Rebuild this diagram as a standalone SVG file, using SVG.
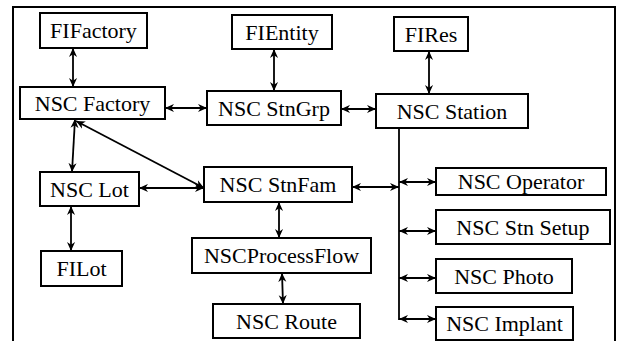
<svg xmlns="http://www.w3.org/2000/svg" width="621" height="341" viewBox="0 0 621 341">
<style>
.box{fill:#fff;stroke:#000;stroke-width:2}
.c{fill:none;stroke:#000;stroke-width:1.8}
.a{marker-start:url(#ah);marker-end:url(#ah)}
</style>
<defs>
<marker id="ah" viewBox="0 0 10 10" refX="10" refY="5" markerWidth="9" markerHeight="9" markerUnits="userSpaceOnUse" orient="auto-start-reverse">
<path d="M0,0.5 L10,5 L0,9.5 L3,5 z" fill="#000"/>
</marker>
</defs>
<rect width="621" height="341" fill="#fff"/>
<path d="M13,341 V7 H615 V341" fill="none" stroke="#000" stroke-width="2"/>
<g id="connectors">
<path class="c a" d="M73,48 V87"/>
<path class="c a" d="M274,49 V91"/>
<path class="c a" d="M429,51 V94"/>
<path class="c a" d="M165,108 H207"/>
<path class="c a" d="M341,109 H376"/>
<path class="c a" d="M75,119 L72,172"/>
<path class="c a" d="M76,121 L204,188"/>
<path class="c a" d="M139,188 H204"/>
<path class="c a" d="M71,206 V251"/>
<path class="c a" d="M279,202 V238"/>
<path class="c a" d="M282,273 L283,304"/>
<path class="c" d="M399,128 V320"/>
<path class="c a" d="M352,187 H399"/>
<path class="c a" d="M399,182 H436"/>
<path class="c a" d="M399,231 H436"/>
<path class="c a" d="M399,278 H436"/>
<path class="c a" d="M399,319 H436"/>
</g>
<g font-family="Liberation Serif, Times New Roman, serif" font-size="22" text-anchor="middle" fill="#000">
<g id="FIFactory"><rect class="box" x="40" y="13" width="107" height="35"/><text x="93.5" y="38">FIFactory</text></g>
<g id="FIEntity"><rect class="box" x="232" y="15" width="100" height="34"/><text x="282" y="39.5">FIEntity</text></g>
<g id="FIRes"><rect class="box" x="394" y="17" width="74" height="34"/><text x="431" y="41.5">FIRes</text></g>
<g id="NSCFactory"><rect class="box" x="20" y="87" width="145" height="32"/><text x="92.5" y="111">NSC Factory</text></g>
<g id="NSCStnGrp"><rect class="box" x="207" y="91" width="134" height="34"/><text x="274" y="115.5">NSC StnGrp</text></g>
<g id="NSCStation"><rect class="box" x="376" y="94" width="152" height="34"/><text x="452" y="118.5">NSC Station</text></g>
<g id="NSCLot"><rect class="box" x="40" y="172" width="99" height="34"/><text x="89.5" y="196.5">NSC Lot</text></g>
<g id="NSCStnFam"><rect class="box" x="204" y="167" width="148" height="35"/><text x="278" y="192">NSC StnFam</text></g>
<g id="FILot"><rect class="box" x="41" y="251" width="81" height="35"/><text x="81.5" y="276">FILot</text></g>
<g id="NSCProcessFlow"><rect class="box" x="192" y="238" width="179" height="35"/><text x="281.5" y="263">NSCProcessFlow</text></g>
<g id="NSCRoute"><rect class="box" x="213" y="304" width="147" height="34"/><text x="286.5" y="328.5">NSC Route</text></g>
<g id="NSCOperator"><rect class="box" x="436" y="168" width="170" height="27"/><text x="521" y="188.5">NSC Operator</text></g>
<g id="NSCStnSetup"><rect class="box" x="436" y="210" width="174" height="34"/><text x="523" y="234.5">NSC Stn Setup</text></g>
<g id="NSCPhoto"><rect class="box" x="436" y="259" width="136" height="34"/><text x="504" y="283.5">NSC Photo</text></g>
<g id="NSCImplant"><rect class="box" x="436" y="307" width="137" height="33"/><text x="504.5" y="331">NSC Implant</text></g>
</g>
</svg>
